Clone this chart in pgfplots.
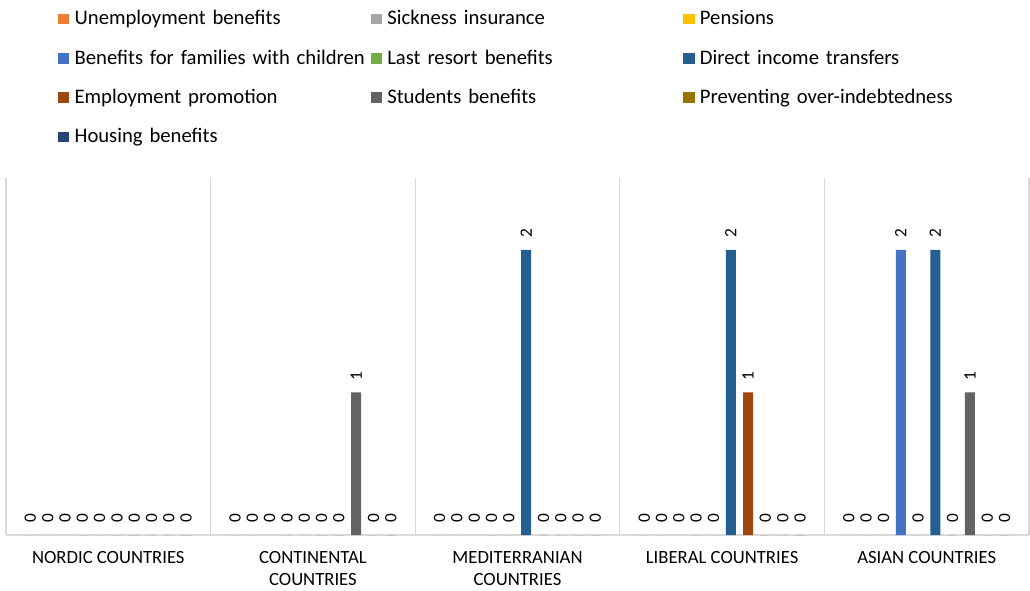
\documentclass[border=0pt]{standalone}
\usepackage{fontspec}
\setmainfont{Carlito}
\usepackage{pgfplots}
\usepackage{pgfplotstable}
\pgfplotsset{compat=1.18}
\definecolor{cU}{HTML}{ED7D31}
\definecolor{cS}{HTML}{A5A5A5}
\definecolor{cP}{HTML}{FFC000}
\definecolor{cF}{HTML}{4472C4}
\definecolor{cL}{HTML}{70AD47}
\definecolor{cD}{HTML}{255E91}
\definecolor{cE}{HTML}{9E480E}
\definecolor{cSt}{HTML}{636363}
\definecolor{cPr}{HTML}{997300}
\definecolor{cH}{HTML}{264478}
\definecolor{gridgray}{HTML}{D9D9D9}
\pgfplotstableread{
x U S P F L D E St Pr H
0 0 0 0 0 0 0 0 0 0 0
1 0 0 0 0 0 0 0 1 0 0
2 0 0 0 0 0 2 0 0 0 0
3 0 0 0 0 0 2 1 0 0 0
4 0 0 0 2 0 2 0 1 0 0
}\datatable
\begin{document}
\begin{tikzpicture}
\begin{axis}[
  at={(4.5pt,-401.25pt)}, anchor=south west,
  scale only axis, width=767.25pt, height=267.4pt,
  xmin=-0.5, xmax=4.5, ymin=0, ymax=2.5,
  ybar=5.48pt, bar width=7.5pt,
  xtick={0,1,2,3,4},
  xticklabels={NORDIC COUNTRIES,{CONTINENTAL\\COUNTRIES},{MEDITERRANIAN\\COUNTRIES},LIBERAL COUNTRIES,ASIAN COUNTRIES},
  xticklabel style={align=center, font=\fontsize{14}{16.5}\selectfont, text=black, yshift=-9pt},
  minor xtick={-0.5,0.5,1.5,2.5,3.5,4.5},
  xminorgrids, minor x grid style={draw=gridgray, line width=1pt},
  major tick length=0pt, minor tick length=0pt,
  ytick=\empty,
  axis x line*=bottom, axis y line=none,
  x axis line style={-, draw=gridgray, line width=1pt},
  /pgf/number format/assume math mode=true,
  nodes near coords,
  every node near coord/.append style={rotate=90, anchor=west, inner xsep=9pt, inner ysep=0pt, font=\fontsize{13}{15}\selectfont, text=black},
  legend columns=3,
  legend cell align=left,
  legend image code/.code={\fill[#1,draw=none] (0pt,-4.1pt) rectangle (8.5pt,4.1pt); \path (0pt,0pt) -- (10.5pt,0pt);},
  legend style={draw=none, fill=none, inner sep=0pt, outer sep=0pt,
    at={(0.0508,1.4762)}, anchor=north west,
    font=\fontsize{15.5}{18}\selectfont, row sep=14pt,
    /tikz/every even column/.append style={text width=220pt, inner xsep=5pt, inner ysep=0pt, text height=10pt, text depth=1pt}},
]
\addplot[fill=cU, draw=none] table[x=x, y=U] {\datatable};
\addlegendentry{Unemployment benefits}
\addplot[fill=cS, draw=none] table[x=x, y=S] {\datatable};
\addlegendentry{Sickness insurance}
\addplot[fill=cP, draw=none] table[x=x, y=P] {\datatable};
\addlegendentry{Pensions}
\addplot[fill=cF, draw=none] table[x=x, y=F] {\datatable};
\addlegendentry{Benefits for families with children}
\addplot[fill=cL, draw=none] table[x=x, y=L] {\datatable};
\addlegendentry{Last resort benefits}
\addplot[fill=cD, draw=none] table[x=x, y=D] {\datatable};
\addlegendentry{Direct income transfers}
\addplot[fill=cE, draw=none] table[x=x, y=E] {\datatable};
\addlegendentry{Employment promotion}
\addplot[fill=cSt, draw=none] table[x=x, y=St] {\datatable};
\addlegendentry{Students benefits}
\addplot[fill=cPr, draw=none] table[x=x, y=Pr] {\datatable};
\addlegendentry{Preventing over-indebtedness}
\addplot[fill=cH, draw=none] table[x=x, y=H] {\datatable};
\addlegendentry{Housing benefits}
\end{axis}
\pgfresetboundingbox
\path[use as bounding box] (0pt,0pt) rectangle (772.5pt,-443.25pt);
\end{tikzpicture}
\end{document}
